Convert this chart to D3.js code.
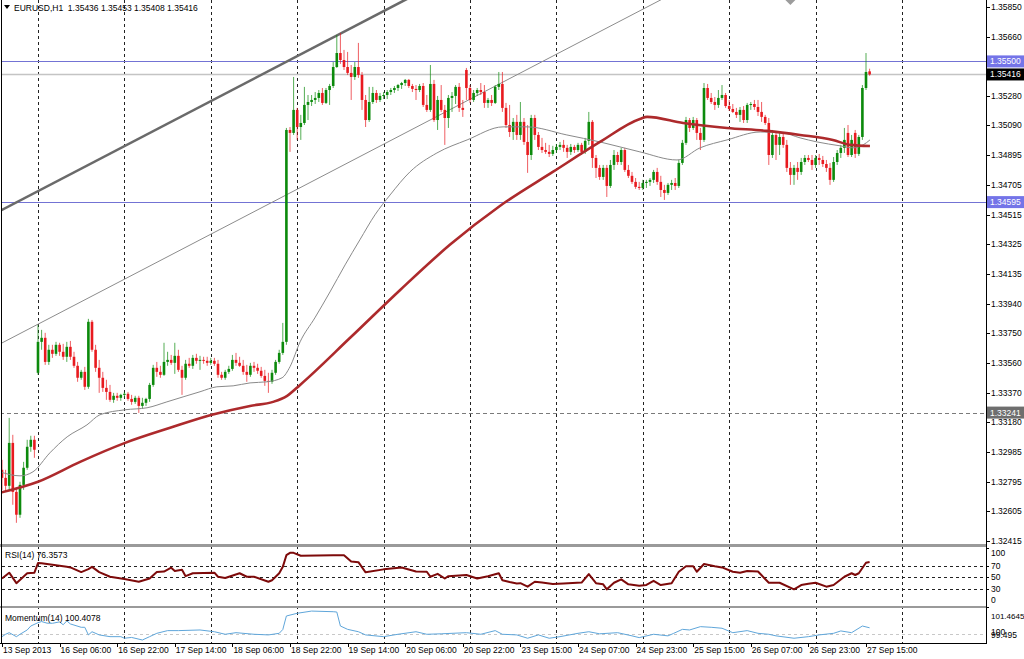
<!DOCTYPE html>
<html><head><meta charset="utf-8">
<script src="https://cdn.jsdelivr.net/npm/d3@7"></script>
<style>
html,body{margin:0;padding:0;background:#fff;}
svg{display:block;font-family:"Liberation Sans",Arial,sans-serif;}
</style></head><body>
<svg id="c" width="1024" height="659"></svg>
<script>
// ---------------- DATA ----------------
const titleText = "EURUSD,H1  1.35436 1.35453 1.35408 1.35416";
const rsiTitle = "RSI(14) 76.3573";
const momTitle = "Momentum(14) 100.4078";

// hourly bars, index 0 = 13 Sep 2013 14:00
const open = [
1.32873,1.32821,1.32770,1.33046,1.32731,1.32584,1.32776,1.32886,1.33021,1.33066,
1.33497,1.33696,1.33722,1.33567,1.33645,1.33619,1.33677,1.33632,1.33600,1.33664,
1.33600,1.33542,1.33465,1.33503,1.33407,1.33825,1.33645,1.33529,1.33465,1.33400,
1.33374,1.33323,1.33349,1.33336,1.33355,1.33362,1.33329,1.33310,1.33336,1.33284,
1.33304,1.33329,1.33419,1.33529,1.33503,1.33484,1.33567,1.33580,1.33561,1.33606,
1.33516,1.33465,1.33555,1.33542,1.33593,1.33574,1.33580,1.33574,1.33561,1.33574,
1.33555,1.33484,1.33465,1.33503,1.33522,1.33580,1.33561,1.33542,1.33503,1.33484,
1.33542,1.33529,1.33510,1.33477,1.33445,1.33439,1.33497,1.33567,1.33625,1.33696,
1.35059,1.35040,1.35188,1.35078,1.35104,1.35220,1.35239,1.35252,1.35265,1.35297,
1.35233,1.35316,1.35342,1.35464,1.35554,1.35509,1.35464,1.35426,1.35400,1.35464,
1.35413,1.35252,1.35123,1.35239,1.35297,1.35252,1.35278,1.35284,1.35303,1.35316,
1.35329,1.35348,1.35361,1.35381,1.35342,1.35323,1.35316,1.35342,1.35220,1.35188,
1.35355,1.35123,1.35252,1.35188,1.35136,1.35265,1.35278,1.35336,1.35201,1.35445,
1.35329,1.35252,1.35297,1.35316,1.35303,1.35233,1.35252,1.35233,1.35336,1.35355,
1.35201,1.35091,1.35046,1.35111,1.35027,1.35111,1.34982,1.34898,1.35136,1.35027,
1.34950,1.34930,1.34918,1.34905,1.34930,1.34950,1.34963,1.34944,1.34918,1.34950,
1.34930,1.34963,1.34918,1.34989,1.35111,1.34879,1.34815,1.34757,1.34815,1.34699,
1.34834,1.34898,1.34853,1.34930,1.34802,1.34764,1.34725,1.34693,1.34686,1.34718,
1.34725,1.34738,1.34789,1.34725,1.34673,1.34654,1.34706,1.34718,1.34699,1.34847,
1.34976,1.35123,1.35072,1.35123,1.35040,1.34995,1.35329,1.35265,1.35239,1.35220,
1.35265,1.35284,1.35213,1.35194,1.35175,1.35156,1.35188,1.35123,1.35220,1.35226,
1.35207,1.35175,1.35143,1.35104,1.34898,1.35027,1.34963,1.35014,1.34963,1.34815,
1.34770,1.34815,1.34789,1.34853,1.34879,1.34866,1.34834,1.34879,1.34866,1.34840,
1.34815,1.34738,1.34853,1.34911,1.34944,1.35040,1.34898,1.35040,1.34905,1.35014,
1.35329,1.35436];
const high = [
1.32937,1.32873,1.33207,1.33098,1.32757,1.32796,1.32924,1.33066,1.33092,1.33092,
1.33805,1.33773,1.33754,1.33677,1.33677,1.33696,1.33690,1.33683,1.33696,1.33702,
1.33632,1.33567,1.33516,1.33535,1.33844,1.33837,1.33677,1.33580,1.33503,1.33452,
1.33419,1.33368,1.33368,1.33362,1.33374,1.33374,1.33355,1.33349,1.33349,1.33336,
1.33336,1.33432,1.33548,1.33567,1.33542,1.33690,1.33632,1.33612,1.33690,1.33645,
1.33542,1.33580,1.33593,1.33612,1.33619,1.33606,1.33600,1.33600,1.33593,1.33593,
1.33580,1.33503,1.33516,1.33542,1.33612,1.33625,1.33600,1.33580,1.33548,1.33561,
1.33567,1.33555,1.33535,1.33516,1.33497,1.33516,1.33580,1.33645,1.33818,1.35072,
1.35078,1.35400,1.35201,1.35156,1.35336,1.35284,1.35284,1.35303,1.35316,1.35329,
1.35329,1.35355,1.35496,1.35670,1.35683,1.35574,1.35561,1.35477,1.35496,1.35619,
1.35432,1.35284,1.35336,1.35336,1.35316,1.35297,1.35303,1.35316,1.35329,1.35342,
1.35355,1.35368,1.35387,1.35387,1.35355,1.35348,1.35355,1.35361,1.35284,1.35477,
1.35381,1.35278,1.35348,1.35220,1.35284,1.35303,1.35348,1.35361,1.35252,1.35458,
1.35348,1.35316,1.35329,1.35361,1.35348,1.35265,1.35284,1.35348,1.35432,1.35432,
1.35233,1.35220,1.35136,1.35156,1.35239,1.35136,1.35091,1.35156,1.35156,1.35046,
1.35008,1.34976,1.34963,1.34957,1.34969,1.34982,1.34995,1.34963,1.34969,1.34963,
1.34976,1.34976,1.35008,1.35175,1.35123,1.34898,1.34834,1.34834,1.34834,1.34866,
1.34930,1.34918,1.34944,1.34944,1.34834,1.34789,1.34750,1.34725,1.34738,1.34738,
1.34750,1.34802,1.34815,1.34764,1.34706,1.34718,1.34738,1.34750,1.34866,1.34995,
1.35143,1.35136,1.35143,1.35136,1.35072,1.35361,1.35355,1.35297,1.35271,1.35316,
1.35348,1.35297,1.35252,1.35226,1.35201,1.35207,1.35213,1.35233,1.35239,1.35252,
1.35252,1.35239,1.35156,1.35136,1.35059,1.35046,1.35046,1.35040,1.34995,1.34853,
1.34834,1.34853,1.34879,1.34898,1.34898,1.34898,1.34898,1.34905,1.34892,1.34866,
1.34847,1.34885,1.34930,1.34963,1.35072,1.35091,1.35027,1.35059,1.35027,1.35348,
1.35554,1.35453];
const low = [
1.32744,1.32731,1.32744,1.32648,1.32532,1.32564,1.32744,1.32873,1.32989,1.32950,
1.33484,1.33645,1.33548,1.33548,1.33593,1.33606,1.33606,1.33580,1.33567,1.33580,
1.33529,1.33439,1.33452,1.33387,1.33394,1.33632,1.33503,1.33368,1.33374,1.33323,
1.33310,1.33304,1.33317,1.33317,1.33336,1.33317,1.33291,1.33297,1.33239,1.33265,
1.33284,1.33310,1.33407,1.33471,1.33465,1.33477,1.33542,1.33548,1.33490,1.33503,
1.33355,1.33452,1.33529,1.33522,1.33555,1.33516,1.33555,1.33542,1.33548,1.33542,
1.33465,1.33452,1.33452,1.33490,1.33510,1.33542,1.33535,1.33484,1.33439,1.33471,
1.33503,1.33490,1.33465,1.33413,1.33368,1.33426,1.33484,1.33555,1.33612,1.33677,
1.34918,1.35027,1.34995,1.34995,1.35091,1.35123,1.35213,1.35226,1.35239,1.35220,
1.35226,1.35220,1.35329,1.35458,1.35484,1.35445,1.35413,1.35252,1.35381,1.35394,
1.35188,1.35078,1.35111,1.35226,1.35233,1.35239,1.35258,1.35258,1.35284,1.35297,
1.35310,1.35323,1.35342,1.35329,1.35303,1.35252,1.35303,1.35207,1.35175,1.35175,
1.35111,1.35059,1.35175,1.34963,1.35072,1.35175,1.35226,1.35175,1.35143,1.35252,
1.35233,1.35239,1.35278,1.35284,1.35201,1.35201,1.35213,1.35226,1.35316,1.35175,
1.35072,1.35014,1.34995,1.34995,1.34995,1.34963,1.34783,1.34866,1.34995,1.34930,
1.34911,1.34905,1.34885,1.34892,1.34911,1.34930,1.34918,1.34879,1.34898,1.34911,
1.34918,1.34898,1.34905,1.34963,1.34815,1.34750,1.34738,1.34738,1.34628,1.34686,
1.34802,1.34834,1.34834,1.34789,1.34750,1.34712,1.34680,1.34673,1.34673,1.34686,
1.34699,1.34718,1.34706,1.34628,1.34609,1.34641,1.34673,1.34673,1.34686,1.34834,
1.34963,1.35046,1.35059,1.34995,1.34930,1.34982,1.35252,1.35226,1.35188,1.35201,
1.35252,1.35201,1.35181,1.35168,1.35136,1.35111,1.35104,1.35104,1.35188,1.35188,
1.35149,1.35111,1.35091,1.34834,1.34879,1.34866,1.34898,1.34944,1.34789,1.34706,
1.34706,1.34738,1.34770,1.34834,1.34853,1.34802,1.34815,1.34834,1.34821,1.34789,
1.34706,1.34725,1.34834,1.34879,1.34911,1.34885,1.34885,1.34879,1.34892,1.34995,
1.35316,1.35408];
const close = [
1.32821,1.32770,1.33046,1.32731,1.32584,1.32776,1.32886,1.33021,1.33066,1.33002,
1.33696,1.33722,1.33567,1.33645,1.33619,1.33677,1.33632,1.33600,1.33664,1.33600,
1.33542,1.33465,1.33503,1.33407,1.33825,1.33645,1.33529,1.33465,1.33400,1.33374,
1.33323,1.33349,1.33336,1.33355,1.33362,1.33329,1.33310,1.33336,1.33284,1.33304,
1.33329,1.33419,1.33529,1.33503,1.33484,1.33567,1.33580,1.33561,1.33606,1.33516,
1.33465,1.33555,1.33542,1.33593,1.33574,1.33580,1.33574,1.33561,1.33574,1.33555,
1.33484,1.33465,1.33503,1.33522,1.33580,1.33561,1.33542,1.33503,1.33484,1.33542,
1.33529,1.33510,1.33477,1.33445,1.33439,1.33497,1.33567,1.33625,1.33696,1.35059,
1.35040,1.35188,1.35078,1.35104,1.35220,1.35239,1.35252,1.35265,1.35297,1.35233,
1.35316,1.35342,1.35464,1.35554,1.35509,1.35464,1.35426,1.35400,1.35464,1.35413,
1.35252,1.35123,1.35239,1.35297,1.35252,1.35278,1.35284,1.35303,1.35316,1.35329,
1.35348,1.35361,1.35381,1.35342,1.35323,1.35316,1.35342,1.35220,1.35188,1.35355,
1.35123,1.35252,1.35188,1.35136,1.35265,1.35278,1.35336,1.35201,1.35188,1.35329,
1.35252,1.35297,1.35316,1.35303,1.35233,1.35252,1.35233,1.35336,1.35355,1.35201,
1.35091,1.35046,1.35111,1.35027,1.35111,1.34982,1.34898,1.35136,1.35027,1.34950,
1.34930,1.34918,1.34905,1.34930,1.34950,1.34963,1.34944,1.34918,1.34950,1.34930,
1.34963,1.34918,1.34989,1.35111,1.34879,1.34815,1.34757,1.34815,1.34699,1.34834,
1.34898,1.34853,1.34930,1.34802,1.34764,1.34725,1.34693,1.34686,1.34718,1.34725,
1.34738,1.34789,1.34725,1.34673,1.34654,1.34706,1.34718,1.34699,1.34847,1.34976,
1.35123,1.35072,1.35123,1.35040,1.34995,1.35329,1.35265,1.35239,1.35220,1.35265,
1.35284,1.35213,1.35194,1.35175,1.35156,1.35188,1.35123,1.35220,1.35226,1.35207,
1.35175,1.35143,1.35104,1.34898,1.35027,1.34963,1.35014,1.34963,1.34815,1.34770,
1.34815,1.34789,1.34853,1.34879,1.34866,1.34834,1.34879,1.34866,1.34840,1.34815,
1.34738,1.34853,1.34911,1.34944,1.34995,1.34898,1.34995,1.34905,1.35014,1.35329,
1.35432,1.35416];

// moving averages (bar index, price)
const maSlowBars = [-0.6,10,21.7,34.2,46.7,58.3,68.9,75.3,79.2,82.8,96.7,110.6,124.4,138.3,153,166.1,177.2,179.2,189.2,201.4,212.5,221.7,230.8,235.6,241.1];
const maSlowVals = [1.32725,1.32796,1.32924,1.33046,1.33143,1.33227,1.33284,1.33310,1.33349,1.33419,1.33722,1.34030,1.34320,1.34570,1.34789,1.34982,1.35130,1.35143,1.35104,1.35072,1.35053,1.35027,1.34995,1.34963,1.34956];
const maFastBars = [-0.6,5,8.6,13.3,18.1,23.6,27.2,34.2,40.3,45.8,50.3,55,59.7,64.2,68.9,73.6,77.8,80,82.8,86.9,91.1,95.3,99.4,103.6,107.8,113.3,120.8,129.2,139.2,145.8,156.9,166.1,177.2,187.5,193.9,201.4,210.6,216.9,221.7,226.4,232.8,236.4,239.2,241.1];
const maFastVals = [1.32860,1.32834,1.32860,1.32982,1.33085,1.33162,1.33227,1.33259,1.33272,1.33310,1.33342,1.33375,1.33407,1.33413,1.33432,1.33439,1.33465,1.33536,1.33696,1.33850,1.34017,1.34191,1.34352,1.34513,1.34641,1.34789,1.34911,1.34995,1.35079,1.35079,1.35027,1.34982,1.34918,1.34866,1.34944,1.34995,1.35046,1.35040,1.35008,1.34982,1.34957,1.34944,1.34963,1.34995];

// trend lines (two anchor points each: bar index, price)
const channelUpperBars = [0, 100];
const channelUpperVals = [1.34545, 1.35751];
const channelLowerBars = [0, 100];
const channelLowerVals = [1.33689, 1.34895];

// horizontal objects
const blueLevels = [1.35500, 1.34595];
const bidLevel = 1.35416;
const dashedLevel = 1.33241;

// RSI(14)
const rsiBars = [0,2,4,7,9,10,11,18,19,22,24,25,27,30,34,38,41,43,45,47,48,50,51,53,59,60,62,66,68,70,74,75,77,78,79,80,81,83,92,95,97,99,101,106,111,115,118,119,121,123,124,129,132,135,138,139,141,143,144,146,148,150,153,156,161,163,165,167,168,170,172,174,177,179,181,183,186,188,190,192,193,195,198,200,203,205,207,210,213,216,220,222,224,226,229,231,234,236,237,238,240,241];
const rsiVals = [48,58,40,57,58,74.5,74,68,67,59,64,68,59,51,47,42.5,48,59,60,66.5,61,63,52,57,58,51,49,57,51,51,42.5,45,57,68,88,92,92,87,88,88,77,76,58.6,63.7,67,60,59.6,51,56,48,52,54,48,52,57,45,42,39.6,40,34,42.5,41,38.5,39.5,41,55.7,40,38,29.4,40.7,46.6,38,35.6,37,44,36.8,40,59.6,69,69,59.6,72.8,69,67,59.6,58,61,60,40.7,40.7,29.4,36.8,39,40.7,34,37,51,57,54,57,75,76.3573];

// Momentum(14)
const momBars = [0,1,2,4,5,7,8,10,11,12.5,14,16,17,18,19,22,23,24,25,27,30,33,34,36,39,41,43,46,49,55,59,62,65,70,74,77,78,79,82,86,92,93,94,96,99,101,106,110,115,118,122,129,133,137,139,143,146,149,152,155,160,163,166,171,175,177,181,185,186.5,189,191,194,197,200,203,207,210,213,215,220,224,227,231,233,236,239,241];
const momVals = [99.85,100.0,100.1,99.85,100.0,100.27,100.52,100.73,100.8,100.7,100.69,100.78,100.6,100.84,100.65,100.44,100.44,99.96,100.16,99.96,99.85,99.85,99.75,99.8,99.64,99.85,100.06,100.23,100.23,100.27,100.16,100.0,100.1,100.0,99.96,100.06,100.3,101.15,101.32,101.46,101.42,101.4,100.52,100.31,100.16,99.96,99.85,100.0,100.16,100.0,100.03,100.1,100.0,100.23,100.0,99.96,99.75,99.96,99.75,99.85,100.06,100.16,100.03,100.1,99.9,99.79,100.0,99.9,100.05,100.31,100.27,100.48,100.44,100.38,100.1,100.23,100.06,100.0,99.9,99.75,99.85,99.96,100.06,100.21,100.1,100.52,100.4078];

// axes
const priceTicks = [1.35850,1.35660,1.35280,1.35090,1.34895,1.34705,1.34515,1.34325,1.34135,1.33940,1.33750,1.33560,1.33370,1.33180,1.32985,1.32795,1.32605,1.32415];
const rsiTicks = [100,70,50,30,0];
const rsiLevels = [70,50,30];
const momTickMax = 101.4645, momTickMin = 99.495, momLevel = 100;
const dayStartBars = [10,34,58,82,106,130,154,178,202,226,250];
const timeLabelBars = [0,16,32,48,64,80,96,112,128,144,160,176,192,208,224,240];
const timeLabels = ["13 Sep 2013","16 Sep 06:00","16 Sep 22:00","17 Sep 14:00","18 Sep 06:00","18 Sep 22:00","19 Sep 14:00","20 Sep 06:00","20 Sep 22:00","23 Sep 15:00","24 Sep 07:00","24 Sep 23:00","25 Sep 15:00","26 Sep 07:00","26 Sep 23:00","27 Sep 15:00"];
const shiftMarkerBar = 219;

// ---------------- DRAW ----------------
const svg = d3.select("#c");
const PR = 986; // plot right edge
const mainB = 544, rsiT = 547, rsiB = 606, momT = 608, momB = 643;
const FS = "8.5px";

const x = d3.scaleLinear().domain([0, 250]).range([2, 902]);
const y = d3.scaleLinear().domain([1.32415, 1.3585]).range([541, 7]);
const yR = d3.scaleLinear().domain([0, 100]).range([606.5, 548.2]);
const yM = d3.scaleLinear().domain([momTickMin, momTickMax]).range([642.3, 611]);

const defs = svg.append("defs");
defs.append("clipPath").attr("id","clipMain").append("rect").attr("x",2).attr("y",0).attr("width",PR-2).attr("height",mainB);
defs.append("clipPath").attr("id","clipRsi").append("rect").attr("x",2).attr("y",rsiT).attr("width",PR-2).attr("height",rsiB-rsiT);
defs.append("clipPath").attr("id","clipMom").append("rect").attr("x",2).attr("y",momT).attr("width",PR-2).attr("height",momB-momT);

svg.append("rect").attr("width",1024).attr("height",659).attr("fill","#fff");

// vertical grid
const grid = svg.append("g");
dayStartBars.forEach(b => {
  const gx = Math.round(x(b)) + 0.5;
  if (gx < PR) grid.append("line").attr("x1",gx).attr("x2",gx).attr("y1",0).attr("y2",momB)
    .attr("stroke","#222").attr("stroke-width",1).attr("stroke-dasharray","3,3");
});

// ---- main window ----
const main = svg.append("g").attr("clip-path","url(#clipMain)");
const hl = (v, color, w, dash) => {
  const yy = Math.round(y(v)) + 0.5;
  const ln = main.append("line").attr("x1",0).attr("x2",PR).attr("y1",yy).attr("y2",yy)
    .attr("stroke",color).attr("stroke-width",w);
  if (dash) ln.attr("stroke-dasharray",dash);
};
hl(bidLevel, "#c4c4c4", 1.5);
blueLevels.forEach(v => hl(v, "#7373d4", 1));
hl(dashedLevel, "#7a7a7a", 1, "4,3");

// channel lines
function ray(bars, vals, color, w) {
  const b0 = x.invert(0), b1 = x.invert(PR);
  const slope = (vals[1]-vals[0])/(bars[1]-bars[0]);
  const pts = [[b0, vals[0]+slope*(b0-bars[0])],[b1, vals[0]+slope*(b1-bars[0])]];
  main.append("line").attr("x1",x(pts[0][0])).attr("y1",y(pts[0][1]))
    .attr("x2",x(pts[1][0])).attr("y2",y(pts[1][1]))
    .attr("stroke",color).attr("stroke-width",w);
}
ray(channelLowerBars, channelLowerVals, "#8c8c8c", 1);
ray(channelUpperBars, channelUpperVals, "#6a6a6a", 2.6);

// candles
const bars = d3.range(close.length).map(i => ({i, o:open[i], h:high[i], l:low[i], c:close[i]}));
const cg = main.append("g");
cg.selectAll("line.w").data(bars).join("line").attr("class","w")
  .attr("x1",d=>x(d.i)).attr("x2",d=>x(d.i)).attr("y1",d=>y(d.h)).attr("y2",d=>y(d.l))
  .attr("stroke",d=>d.c>=d.o?"#0c8a0c":"#e81a1f").attr("stroke-opacity",0.7).attr("stroke-width",1);
cg.selectAll("rect.b").data(bars).join("rect").attr("class","b")
  .attr("x",d=>x(d.i)-1.3).attr("width",2.6)
  .attr("y",d=>Math.min(y(d.o),y(d.c)))
  .attr("height",d=>Math.max(1,Math.abs(y(d.o)-y(d.c))))
  .attr("fill",d=>d.c>=d.o?"#0c8a0c":"#e81a1f");

// moving averages
const maLine = d3.line().x(d=>x(d[0])).y(d=>y(d[1])).curve(d3.curveMonotoneX);
main.append("path").attr("d",maLine(maFastBars.map((b,k)=>[b,maFastVals[k]])))
  .attr("fill","none").attr("stroke","#8a8a8a").attr("stroke-width",1);
main.append("path").attr("d",maLine(maSlowBars.map((b,k)=>[b,maSlowVals[k]])))
  .attr("fill","none").attr("stroke","#ad2a2c").attr("stroke-width",2.6);

// shift marker
const sx = x(shiftMarkerBar);
svg.append("path").attr("d",`M${sx-5},0 L${sx+5},0 L${sx},5 Z`).attr("fill","#9c9c9c");

// title
svg.append("path").attr("d","M4,5 L10,5 L7,9 Z").attr("fill","#000");
svg.append("text").attr("x",14).attr("y",11).attr("font-size",FS).attr("fill","#000")
  .attr("xml:space","preserve").text(titleText);

// ---- RSI window ----
const rg = svg.append("g").attr("clip-path","url(#clipRsi)");
rsiLevels.forEach(v => {
  const yy = Math.round(yR(v))+0.5;
  rg.append("line").attr("x1",2).attr("x2",PR).attr("y1",yy).attr("y2",yy)
    .attr("stroke","#222").attr("stroke-dasharray","3,3");
});
const rLine = d3.line().x(d=>x(d[0])).y(d=>yR(d[1]));
rg.append("path").attr("d",rLine(rsiBars.map((b,k)=>[b,rsiVals[k]])))
  .attr("fill","none").attr("stroke","#7d0a0a").attr("stroke-width",2).attr("stroke-linejoin","round");
svg.append("text").attr("x",5).attr("y",558).attr("font-size",FS).text(rsiTitle);

// ---- Momentum window ----
const mg = svg.append("g").attr("clip-path","url(#clipMom)");
{
  const yy = Math.round(yM(momLevel))+0.5;
  mg.append("line").attr("x1",2).attr("x2",PR).attr("y1",yy).attr("y2",yy)
    .attr("stroke","#c8c8c8").attr("stroke-dasharray","3,3");
}
const mLine = d3.line().x(d=>x(d[0])).y(d=>yM(d[1]));
mg.append("path").attr("d",mLine(momBars.map((b,k)=>[b,momVals[k]])))
  .attr("fill","none").attr("stroke","#5fa6da").attr("stroke-width",1);
svg.append("text").attr("x",5).attr("y",621).attr("font-size",FS).text(momTitle);

// ---- separators & frame ----
svg.append("rect").attr("x",0).attr("y",mainB).attr("width",PR+1).attr("height",3).attr("fill","#9a9a9a");
svg.append("rect").attr("x",0).attr("y",rsiB).attr("width",PR+1).attr("height",2).attr("fill","#9a9a9a");
svg.append("line").attr("x1",1.5).attr("x2",1.5).attr("y1",0).attr("y2",momB).attr("stroke","#000");
svg.append("line").attr("x1",PR+0.5).attr("x2",PR+0.5).attr("y1",0).attr("y2",momB+1).attr("stroke","#000");
svg.append("line").attr("x1",0).attr("x2",PR+1).attr("y1",momB+0.5).attr("y2",momB+0.5).attr("stroke","#000");

// ---- right axis ----
const ax = svg.append("g").attr("font-size",FS).attr("fill","#000");
priceTicks.forEach(v => {
  const yy = y(v);
  ax.append("line").attr("x1",PR).attr("x2",PR+4).attr("y1",Math.round(yy)+0.5).attr("y2",Math.round(yy)+0.5).attr("stroke","#000");
  ax.append("text").attr("x",PR+5).attr("y",yy+3).text(v.toFixed(5));
});
const boxes = [[blueLevels[0],"#7474e8","#fff"],[bidLevel,"#000","#fff"],[blueLevels[1],"#7474e8","#fff"],[dashedLevel,"#6e6e6e","#fff"]];
boxes.forEach(([v,bg,fg]) => {
  const yy = y(v);
  ax.append("rect").attr("x",PR+1).attr("y",yy-6).attr("width",37).attr("height",12).attr("fill",bg);
  ax.append("text").attr("x",PR+4).attr("y",yy+3).attr("fill",fg).text(v.toFixed(5));
});
rsiTicks.forEach(v => {
  const yy = Math.max(553, Math.min(600, yR(v)));
  ax.append("line").attr("x1",PR).attr("x2",PR+3).attr("y1",Math.round(yR(v))+0.5).attr("y2",Math.round(yR(v))+0.5).attr("stroke","#000");
  ax.append("text").attr("x",PR+5).attr("y",yy+3).text(String(v));
});
ax.append("text").attr("x",PR+5).attr("y",Math.max(616, yM(momTickMax))+3).attr("font-size","8px").text(momTickMax.toFixed(4));
ax.append("text").attr("x",PR+5).attr("y",yM(momLevel)+4).text(String(momTickMin));
ax.append("text").attr("x",PR+5).attr("y",yM(momLevel)+1).text(String(momLevel));

// ---- time axis ----
timeLabelBars.forEach((b,k) => {
  const tx = x(b);
  svg.append("line").attr("x1",Math.round(tx)+0.5).attr("x2",Math.round(tx)+0.5).attr("y1",momB).attr("y2",momB+4).attr("stroke","#000");
  svg.append("text").attr("x",tx+1).attr("y",653).attr("font-size",FS).text(timeLabels[k]);
});
</script>
</body></html>
